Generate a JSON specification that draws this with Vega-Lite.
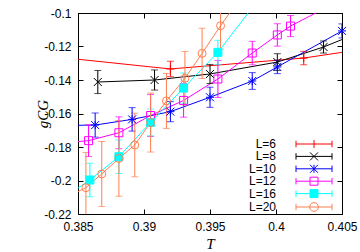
{
  "$schema": "https://vega.github.io/schema/vega-lite/v6.json",
  "width": 264,
  "height": 201,
  "autosize": {"type": "none"},
  "padding": {"left": 78, "top": 13, "right": 18, "bottom": 38},
  "background": "white",
  "config": {
    "view": {"stroke": "black", "strokeWidth": 1},
    "axis": {
      "domain": false,
      "grid": false,
      "tickColor": "black",
      "tickSize": -5,
      "tickWidth": 1,
      "labelColor": "black",
      "labelFont": "Liberation Sans",
      "labelFontSize": 12,
      "labelFlush": false,
      "labelOverlap": false,
      "titleColor": "black"
    }
  },
  "data": {
    "values": [
      {"L": "L=6", "T": 0.38, "g": -0.1235, "e": 0.004},
      {"L": "L=6", "T": 0.392, "g": -0.1334, "e": 0.0046},
      {"L": "L=6", "T": 0.4021, "g": -0.1269, "e": 0.004},
      {"L": "L=6", "T": 0.41, "g": -0.1176, "e": 0.004},
      {"L": "L=8", "T": 0.3865, "g": -0.1412, "e": 0.0069},
      {"L": "L=8", "T": 0.3908, "g": -0.14, "e": 0.006},
      {"L": "L=8", "T": 0.395, "g": -0.1364, "e": 0.0057},
      {"L": "L=8", "T": 0.4001, "g": -0.1293, "e": 0.005},
      {"L": "L=8", "T": 0.4036, "g": -0.1203, "e": 0.0036},
      {"L": "L=8", "T": 0.41, "g": -0.1, "e": 0.004},
      {"L": "L=10", "T": 0.3835, "g": -0.1672, "e": 0.007},
      {"L": "L=10", "T": 0.3863, "g": -0.1669, "e": 0.0072},
      {"L": "L=10", "T": 0.3891, "g": -0.1635, "e": 0.007},
      {"L": "L=10", "T": 0.392, "g": -0.1589, "e": 0.006},
      {"L": "L=10", "T": 0.395, "g": -0.1503, "e": 0.006},
      {"L": "L=10", "T": 0.3982, "g": -0.1406, "e": 0.005},
      {"L": "L=10", "T": 0.4001, "g": -0.1322, "e": 0.004},
      {"L": "L=10", "T": 0.405, "g": -0.1107, "e": 0.0042},
      {"L": "L=12", "T": 0.383, "g": -0.1782, "e": 0.0095},
      {"L": "L=12", "T": 0.3858, "g": -0.1762, "e": 0.0095},
      {"L": "L=12", "T": 0.3881, "g": -0.1715, "e": 0.0095},
      {"L": "L=12", "T": 0.3905, "g": -0.1612, "e": 0.0125},
      {"L": "L=12", "T": 0.393, "g": -0.1522, "e": 0.01},
      {"L": "L=12", "T": 0.3956, "g": -0.1394, "e": 0.011},
      {"L": "L=12", "T": 0.3982, "g": -0.1239, "e": 0.007},
      {"L": "L=12", "T": 0.4001, "g": -0.1131, "e": 0.0067},
      {"L": "L=12", "T": 0.4011, "g": -0.1078, "e": 0.0063},
      {"L": "L=12", "T": 0.4045, "g": -0.0939, "e": 0.006},
      {"L": "L=16", "T": 0.384, "g": -0.2099, "e": 0.01},
      {"L": "L=16", "T": 0.3859, "g": -0.1997, "e": 0.01},
      {"L": "L=16", "T": 0.3881, "g": -0.1858, "e": 0.01},
      {"L": "L=16", "T": 0.3905, "g": -0.1653, "e": 0.008},
      {"L": "L=16", "T": 0.393, "g": -0.1448, "e": 0.009},
      {"L": "L=16", "T": 0.3956, "g": -0.1235, "e": 0.0072},
      {"L": "L=16", "T": 0.3985, "g": -0.0938, "e": 0.007},
      {"L": "L=20", "T": 0.384, "g": -0.2104, "e": 0.021},
      {"L": "L=20", "T": 0.3856, "g": -0.2043, "e": 0.021},
      {"L": "L=20", "T": 0.3868, "g": -0.1961, "e": 0.0194},
      {"L": "L=20", "T": 0.3881, "g": -0.1868, "e": 0.0226},
      {"L": "L=20", "T": 0.3893, "g": -0.1788, "e": 0.019},
      {"L": "L=20", "T": 0.3905, "g": -0.1654, "e": 0.0176},
      {"L": "L=20", "T": 0.3917, "g": -0.1525, "e": 0.0164},
      {"L": "L=20", "T": 0.3931, "g": -0.139, "e": 0.016},
      {"L": "L=20", "T": 0.3944, "g": -0.1241, "e": 0.015},
      {"L": "L=20", "T": 0.3958, "g": -0.1076, "e": 0.014},
      {"L": "L=20", "T": 0.397, "g": -0.0942, "e": 0.014}
    ]
  },
  "layer": [
    {
      "mark": {"type": "line", "clip": true, "strokeWidth": 1},
      "encoding": {
        "x": {"field": "T", "type": "quantitative", "scale": {"domain": [0.385, 0.405], "nice": false, "zero": false}, "axis": null},
        "y": {"field": "g", "type": "quantitative", "scale": {"domain": [-0.22, -0.1], "nice": false, "zero": false}, "axis": null},
        "color": {"field": "L", "type": "nominal", "scale": {"domain": ["L=6", "L=8", "L=10", "L=12", "L=16", "L=20"], "range": ["#ff0000", "#000000", "#0000ff", "#ff00ff", "#00ffff", "#ff7f50"]},
                  "legend": {
                    "orient": "none", "legendX": 230, "legendY": 125, "title": null, "padding": 0,
                    "labelFont": "Liberation Sans", "labelFontSize": 12, "labelColor": "black", "labelAlign": "right", "labelOffset": -44,
                    "symbolSize": 64, "symbolStrokeWidth": 1, "rowPadding": 0.4,
                    "encode": {"symbols": {"update": {
                      "shape": {"signal": "datum.value === 'L=6' ? 'M-4.5,0H4.5M-4.5,-0.8V0.8M4.5,-0.8V0.8M0,-1V1' : datum.value === 'L=8' ? 'M-4.5,0H4.5M-4.5,-0.8V0.8M4.5,-0.8V0.8M-1,-1L1,1M-1,1L1,-1' : datum.value === 'L=10' ? 'M-4.5,0H4.5M-4.5,-0.8V0.8M4.5,-0.8V0.8M0,-1V1M-1,-1L1,1M-1,1L1,-1' : datum.value === 'L=12' ? 'M-4.5,0H4.5M-4.5,-0.8V0.8M4.5,-0.8V0.8M-1,-1H1M1,-1V1M1,1H-1M-1,1V-1' : datum.value === 'L=16' ? 'M-4.5,0H4.5M-4.5,-0.8V0.8M4.5,-0.8V0.8M-1,-1H1V1H-1Z' : 'M-4.5,0H4.5M-4.5,-0.8V0.8M4.5,-0.8V0.8M1.1,0L0.953,0.55M0.953,0.55L0.55,0.953M0.55,0.953L0,1.1M0,1.1L-0.55,0.953M-0.55,0.953L-0.953,0.55M-0.953,0.55L-1.1,0M-1.1,0L-0.953,-0.55M-0.953,-0.55L-0.55,-0.953M-0.55,-0.953L0,-1.1M0,-1.1L0.55,-0.953M0.55,-0.953L0.953,-0.55M0.953,-0.55L1.1,0'"},
                      "fill": {"signal": "datum.value === 'L=16' ? '#00ffff' : 'transparent'"},
                      "stroke": {"signal": "scale('color', datum.value)"},
                      "strokeWidth": {"value": 1},
                      "opacity": {"value": 1}
                    }}}
                  }}
      }
    },
    {
      "transform": [
        {"filter": {"field": "T", "range": [0.385, 0.4051]}},
        {"filter": {"field": "g", "range": [-0.22, -0.1]}}
      ],
      "mark": {"type": "errorbar", "clip": true, "ticks": {"size": 7}, "thickness": 1},
      "encoding": {
        "x": {"field": "T", "type": "quantitative", "scale": {"domain": [0.385, 0.405], "nice": false, "zero": false},
              "axis": {"orient": "top", "labels": false, "title": null, "values": [0.385, 0.39, 0.395, 0.4, 0.405]}},
        "y": {"field": "g", "type": "quantitative", "scale": {"domain": [-0.22, -0.1], "nice": false, "zero": false},
              "axis": {"orient": "right", "labels": false, "title": null, "values": [-0.22, -0.2, -0.18, -0.16, -0.14, -0.12, -0.1]}},
        "yError": {"field": "e"},
        "color": {"field": "L", "type": "nominal", "scale": {"domain": ["L=6", "L=8", "L=10", "L=12", "L=16", "L=20"], "range": ["#ff0000", "#000000", "#0000ff", "#ff00ff", "#00ffff", "#ff7f50"]}}
      }
    },
    {
      "transform": [
        {"filter": {"field": "T", "range": [0.385, 0.4051]}},
        {"filter": {"field": "g", "range": [-0.22, -0.1]}}
      ],
      "mark": {"type": "point", "filled": false, "size": 64, "strokeWidth": 1, "opacity": 1},
      "encoding": {
        "x": {"field": "T", "type": "quantitative", "scale": {"domain": [0.385, 0.405], "nice": false, "zero": false},
              "axis": {"orient": "bottom", "title": "T", "titleFont": "Liberation Serif", "titleFontStyle": "italic", "titleFontWeight": "normal", "titleFontSize": 15, "titlePadding": 4, "labelPadding": 12,
                       "values": [0.385, 0.39, 0.395, 0.4, 0.405], "labelExpr": "'' + datum.value"}},
        "y": {"field": "g", "type": "quantitative", "scale": {"domain": [-0.22, -0.1], "nice": false, "zero": false},
              "axis": {"orient": "left", "title": "gCG", "titleFont": "Liberation Serif", "titleFontStyle": "italic", "titleFontWeight": "normal", "titleFontSize": 15, "titlePadding": -7, "labelPadding": 12,
                       "values": [-0.22, -0.2, -0.18, -0.16, -0.14, -0.12, -0.1], "labelExpr": "'' + datum.value"}},
        "color": {"field": "L", "type": "nominal",
                  "scale": {"domain": ["L=6", "L=8", "L=10", "L=12", "L=16", "L=20"], "range": ["#ff0000", "#000000", "#0000ff", "#ff00ff", "#00ffff", "#ff7f50"]}},
        "shape": {"condition": [
                    {"test": "datum.L === 'L=6'", "value": "M-1,0H1M0,-1V1"},
                    {"test": "datum.L === 'L=8'", "value": "M-1,-1L1,1M-1,1L1,-1"},
                    {"test": "datum.L === 'L=10'", "value": "M-1,0H1M0,-1V1M-1,-1L1,1M-1,1L1,-1"},
                    {"test": "datum.L === 'L=20'", "value": "circle"}
                  ], "value": "square"},
        "fill": {"condition": {"test": "datum.L === 'L=16'", "value": "#00ffff"}, "value": "transparent"}
      }
    }
  ],
  "resolve": {"axis": {"x": "independent", "y": "independent"}}
}
